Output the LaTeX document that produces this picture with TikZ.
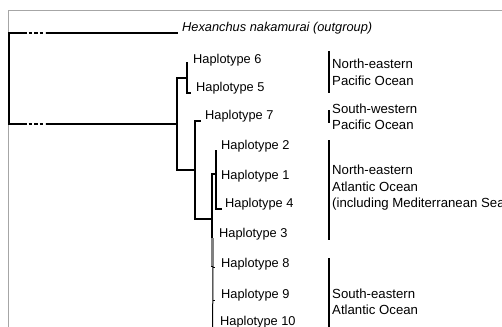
\documentclass[tikz,border=0pt]{standalone}
\usepackage{fontspec}
\setmainfont{Liberation Sans}
\begin{document}
\begin{tikzpicture}[x=1pt,y=-1pt,
  tip/.style={anchor=west,inner sep=0pt,font=\fontsize{12.8}{16.5}\selectfont},
  region/.style={anchor=west,inner sep=0pt,align=left,font=\fontsize{13.2}{16.5}\selectfont},
  br/.style={line width=1.6pt,line cap=rect},
  thin/.style={line width=1pt},
  bar/.style={line width=2.8pt},
  brk/.style={line width=1.6pt,dash pattern=on 3.5pt off 2pt}]
\useasboundingbox (0,0) rectangle (502,326);
\clip (0,0) rectangle (502,326);
\fill[white] (0,0) rectangle (502,326);
% frame
\draw[gray!70,line width=0.8pt] (8,340) -- (8,10) -- (520,10);
% internal coordinates
\coordinate (r1) at (9,33);
\coordinate (r2) at (9,124);
\coordinate (oe) at (177,33);
\coordinate (A) at (177,124);
\coordinate (B) at (187,78);
\coordinate (C) at (195,170);
\coordinate (D) at (212,219);
\coordinate (E) at (216,174);
\coordinate (dend) at (212.5,340);
% tips
\node[tip,font=\fontsize{12.8}{16.5}\selectfont\itshape] (out) at (182,28) {Hexanchus nakamurai (outgroup)};
\node[tip] (h6) at (193,60) {Haplotype 6};
\node[tip] (h5) at (196,88) {Haplotype 5};
\node[tip] (h7) at (205,116) {Haplotype 7};
\node[tip] (h2) at (221,146) {Haplotype 2};
\node[tip] (h1) at (221,176) {Haplotype 1};
\node[tip] (h4) at (225,204) {Haplotype 4};
\node[tip] (h3) at (219,234) {Haplotype 3};
\node[tip] (h8) at (221,264) {Haplotype 8};
\node[tip] (h9) at (221,295) {Haplotype 9};
\node[tip] (h10) at (220,322) {Haplotype 10};
% root
\draw[line width=2.4pt] (r1) -- (r2);
\draw[br] (r1) -- (22,33);
\draw[brk] (23,33) -- (45,33);
\draw[br] (47,33) -- (oe);
\draw[br] (r2) -- (22,124);
\draw[brk] (23,124) -- (45,124);
\draw[br] (47,124) -- (A);
% A
\draw[br] (A |- B) -- (A |- C);
\draw[br] (A |- B) -- (B);
\draw[br] (A |- C) -- (C);
% B
\draw[br] (187,63) -- (187,93) -- (190,93);
% C
\draw[br] (200,121) -- (195,121) -- (195,219) -- (D);
% D
\draw[br] (212,174) -- (212,266);
\draw[gray,line width=2.8pt] (212.5,238) -- (212.5,266);
\draw[thin] (213,266) -- (dend);
\draw[thin] (213,267) -- (215,267);
\draw[thin] (213,300) -- (215,300);
% E
\draw[br] (212,174) -- (E);
\draw[br] (216,151) -- (216,209) -- (221,209);
% region bars
\draw[bar] (329,51) -- (329,93);
\draw[bar] (329,110) -- (329,123);
\draw[bar] (329,140) -- (329,240);
\draw[bar] (329,258) -- (329,340);
\node[region] (nep) at (332,72.5) {North-eastern\\Pacific Ocean};
\node[region] (swp) at (332,117) {South-western\\Pacific Ocean};
\node[region] (nea) at (332,188) {North-eastern\\Atlantic Ocean\\(including Mediterranean Sea};
\node[region] (sea) at (332,302) {South-eastern\\Atlantic Ocean};
\end{tikzpicture}
\end{document}
